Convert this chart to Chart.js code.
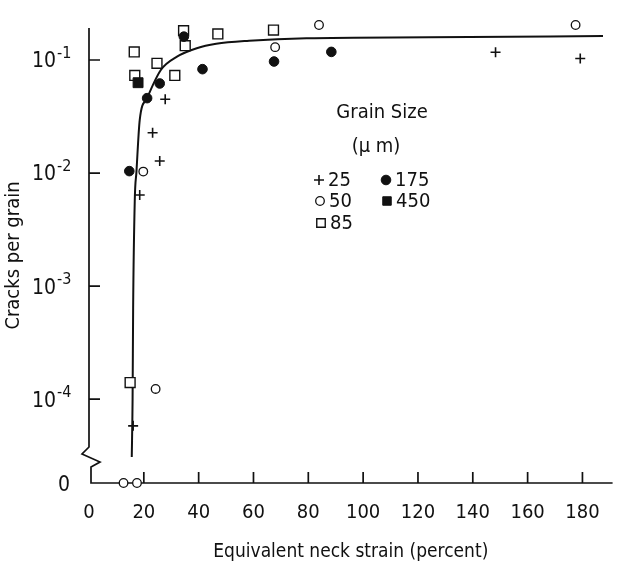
<!DOCTYPE html>
<html>
<head>
<meta charset="utf-8">
<title>Cracks per grain vs equivalent neck strain</title>
<script src="https://cdn.jsdelivr.net/npm/chart.js@4.4.1/dist/chart.umd.min.js"></script>
<style>
  html, body { margin: 0; padding: 0; background: #fff; }
  canvas { display: block; }
</style>
</head>
<body>
<canvas id="cracksChart" width="621" height="567"></canvas>
<script>
// Data: equivalent neck strain (percent) vs cracks per grain
// A value of 0 is plotted on the "0" line below the axis break
const strain25 = [27.8, 23.2, 25.8, 18.5, 16.1, 148.3, 179.2];
const cracks25 = [0.045, 0.0227, 0.0128, 0.0064, 0.000058, 0.117, 0.103];

const strain50 = [19.8, 67.9, 83.9, 177.5, 24.3, 12.6, 17.5];
const cracks50 = [0.0103, 0.130, 0.204, 0.204, 0.000123, 0, 0];

const strain85 = [16.5, 16.7, 24.8, 31.3, 34.5, 35.1, 47.0, 67.3, 82.3, 15.0];
const cracks85 = [0.118, 0.073, 0.0935, 0.073, 0.182, 0.134, 0.170, 0.184, 0.259, 0.00014];

const strain175 = [34.6, 67.5, 41.4, 25.8, 21.2, 14.7, 88.4];
const cracks175 = [0.161, 0.097, 0.083, 0.062, 0.046, 0.0104, 0.118];

const strain450 = [17.9];
const cracks450 = [0.063];

// hand-drawn trend curve
const fitStrain = [15.6, 15.9, 16.1, 16.7, 17.3, 18.5, 21.2, 26.2, 32.1, 39.3, 46.4, 58.4, 79.3, 124, 187.5];
const fitCracks = [0.0000307, 0.0001, 0.000638, 0.00577, 0.0102, 0.0294, 0.0461, 0.0816, 0.107, 0.127, 0.139, 0.148, 0.156, 0.159, 0.163];

const xTickValues = [0, 20, 40, 60, 80, 100, 120, 140, 160, 180];
const yTickValues = [0.1, 0.01, 0.001, 0.0001];
const yTickExponents = ['-1', '-2', '-3', '-4'];

const ZERO_LEVEL = 1.81e-5;   // where the "0" line sits on the log axis
const Y_TOP = 0.192;
const X_MAX = 191;

const INK = '#111';
const FONT = "'Liberation Sans Narrow', 'DejaVu Sans Condensed', sans-serif";

function toPoints(xs, ys) {
    return xs.map(function(v, i) {
        return { x: v, y: ys[i] === 0 ? ZERO_LEVEL : ys[i] };
    });
}

const markerStyles = {
    g25:  { pointStyle: 'cross',  radius: 5,   borderWidth: 1.6, backgroundColor: INK,    borderColor: INK },
    g50:  { pointStyle: 'circle', radius: 4.3, borderWidth: 1.3, backgroundColor: '#fff', borderColor: INK },
    g85:  { pointStyle: 'rect',   radius: 7,   borderWidth: 1.4, backgroundColor: '#fff', borderColor: INK },
    g175: { pointStyle: 'circle', radius: 4.8, borderWidth: 1,   backgroundColor: INK,    borderColor: INK },
    g450: { pointStyle: 'rect',   radius: 7,   borderWidth: 1,   backgroundColor: INK,    borderColor: INK }
};

function scatterSet(label, xs, ys, style, order) {
    return {
        type: 'scatter',
        label: label,
        data: toPoints(xs, ys),
        pointStyle: style.pointStyle,
        pointRadius: style.radius,
        pointBorderWidth: style.borderWidth,
        pointBackgroundColor: style.backgroundColor,
        pointBorderColor: style.borderColor,
        showLine: false,
        clip: false,
        order: order
    };
}

// axes with inward ticks, axis break, superscript labels and the legend box
const figureDecor = {
    id: 'figureDecor',
    beforeDatasetsDraw(chart) {
        const ctx = chart.ctx;
        const xs = chart.scales.x, ys = chart.scales.y;
        const left = xs.getPixelForValue(0);
        const bottom = ys.getPixelForValue(ZERO_LEVEL);
        const top = ys.getPixelForValue(Y_TOP);
        const right = xs.getPixelForValue(X_MAX);
        ctx.save();
        ctx.strokeStyle = INK;
        ctx.lineWidth = 1.7;
        ctx.beginPath();
        ctx.moveTo(left, top);
        ctx.lineTo(left, bottom - 36);
        ctx.lineTo(left - 7, bottom - 29);
        ctx.lineTo(left + 11, bottom - 21);
        ctx.lineTo(left + 2, bottom - 16);
        ctx.lineTo(left + 2, bottom);
        ctx.lineTo(right, bottom);
        ctx.stroke();
        ctx.beginPath();
        yTickValues.forEach(function(v) {
            const py = ys.getPixelForValue(v);
            ctx.moveTo(left, py);
            ctx.lineTo(left + 11, py);
        });
        xTickValues.slice(1).forEach(function(v) {
            const px = xs.getPixelForValue(v);
            ctx.moveTo(px, bottom);
            ctx.lineTo(px, bottom - 11);
        });
        ctx.stroke();
        ctx.restore();
    },
    afterDraw(chart) {
        const ctx = chart.ctx;
        const ys = chart.scales.y;
        ctx.save();
        ctx.fillStyle = INK;
        ctx.textBaseline = 'middle';

        // y labels: 10 with raised exponent
        yTickValues.forEach(function(v, i) {
            const py = ys.getPixelForValue(v);
            ctx.font = '21px ' + FONT;
            ctx.textAlign = 'right';
            ctx.fillText('10', 56, py + 2);
            ctx.font = '16px ' + FONT;
            ctx.textAlign = 'left';
            ctx.fillText(yTickExponents[i], 57, py - 6);
        });
        ctx.font = '21px ' + FONT;
        ctx.textAlign = 'center';
        ctx.fillText('0', 64, ys.getPixelForValue(ZERO_LEVEL) + 3);

        // legend
        ctx.font = '20px ' + FONT;
        ctx.fillText('Grain Size', 382, 113);
        ctx.fillText('(\u03bc m)', 376, 147);
        const rows = [
            ['g25', '25', 319, 181], ['g175', '175', 386, 181],
            ['g50', '50', 320, 202], ['g450', '450', 387, 202],
            ['g85', '85', 321, 224]
        ];
        ctx.textAlign = 'left';
        rows.forEach(function(r) {
            const st = markerStyles[r[0]];
            ctx.save();
            ctx.fillStyle = st.backgroundColor;
            ctx.strokeStyle = st.borderColor;
            ctx.lineWidth = st.borderWidth;
            Chart.helpers.drawPoint(ctx, {
                pointStyle: st.pointStyle,
                radius: r[0] === 'g85' || r[0] === 'g450' ? 6 : st.radius,
                rotation: 0,
                borderWidth: st.borderWidth
            }, r[2], r[3] - 1);
            ctx.restore();
            ctx.fillText(r[1], r[2] + 9, r[3]);
        });
        ctx.restore();
    }
};

const ctx = document.getElementById('cracksChart');

new Chart(ctx, {
    data: {
        datasets: [
            {
                type: 'line',
                label: 'fit',
                data: toPoints(fitStrain, fitCracks),
                borderColor: INK,
                borderWidth: 2,
                pointRadius: 0,
                fill: false,
                cubicInterpolationMode: 'monotone',
                clip: false,
                order: 5
            },
            scatterSet('25', strain25, cracks25, markerStyles.g25, 2),
            scatterSet('50', strain50, cracks50, markerStyles.g50, 3),
            scatterSet('85', strain85, cracks85, markerStyles.g85, 4),
            scatterSet('175', strain175, cracks175, markerStyles.g175, 1),
            scatterSet('450', strain450, cracks450, markerStyles.g450, 0)
        ]
    },
    options: {
        responsive: false,
        animation: false,
        layout: { padding: { top: 28, right: 6, left: 0, bottom: 0 } },
        plugins: {
            legend: { display: false },
            tooltip: { enabled: false }
        },
        scales: {
            x: {
                type: 'linear',
                min: 0,
                max: X_MAX,
                grid: { display: false, drawTicks: false },
                border: { display: false },
                afterBuildTicks: function(scale) {
                    scale.ticks = xTickValues.map(function(v) { return { value: v }; });
                },
                afterFit: function(scale) { scale.height = 84; },
                ticks: {
                    color: INK,
                    font: { family: FONT, size: 20 },
                    padding: 18,
                    maxRotation: 0,
                    autoSkip: false
                },
                title: {
                    display: true,
                    text: 'Equivalent neck strain (percent)',
                    color: INK,
                    font: { family: FONT, size: 19 },
                    padding: { top: 0, bottom: 4 }
                }
            },
            y: {
                type: 'logarithmic',
                min: ZERO_LEVEL,
                max: Y_TOP,
                grid: { display: false, drawTicks: false },
                border: { display: false },
                afterBuildTicks: function(scale) {
                    scale.ticks = yTickValues.map(function(v) { return { value: v }; });
                },
                afterFit: function(scale) { scale.width = 89; },
                ticks: { display: false },
                title: {
                    display: true,
                    text: 'Cracks per grain',
                    color: INK,
                    font: { family: FONT, size: 20 },
                    padding: { top: 2, bottom: 0 }
                }
            }
        }
    },
    plugins: [figureDecor]
});
</script>
</body>
</html>
